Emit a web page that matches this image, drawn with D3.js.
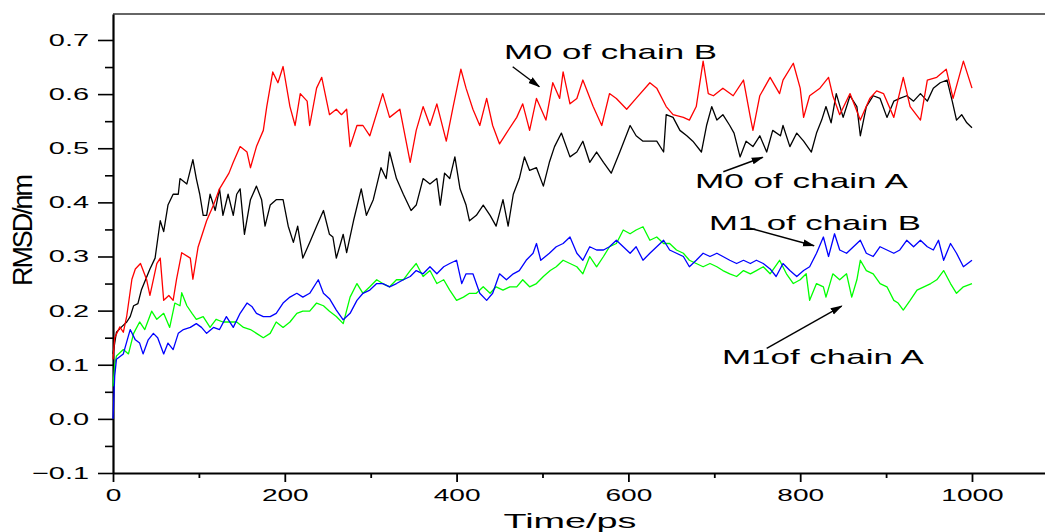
<!DOCTYPE html>
<html><head><meta charset="utf-8">
<script src="https://cdn.jsdelivr.net/npm/d3@7"></script>
<style>
body{margin:0;background:#fff}
svg{display:block}
text{font-family:"Liberation Sans",Arial,Helvetica,sans-serif;fill:#000}
</style></head>
<body><svg id="c" width="1045" height="532"></svg>
<script>
// ---- data: [time (ps), RMSD (nm)] ----
const m0ChainB = [[0,0.11],[2,0.15],[8,0.17],[12,0.16],[16,0.19],[22,0.258],[26,0.277],[32,0.287],[39,0.258],[43,0.228],[51,0.287],[55,0.297],[59,0.219],[65,0.228],[70,0.219],[74,0.258],[80,0.307],[90,0.297],[93,0.258],[99,0.317],[109,0.366],[117,0.395],[124,0.425],[135,0.454],[140,0.474],[148,0.503],[156,0.493],[160,0.464],[167,0.503],[175,0.533],[179,0.577],[186,0.641],[192,0.621],[198,0.651],[206,0.577],[212,0.542],[218,0.601],[226,0.587],[229,0.542],[237,0.611],[243,0.631],[252,0.562],[260,0.572],[266,0.562],[272,0.572],[276,0.503],[284,0.542],[291,0.542],[299,0.523],[314,0.601],[322,0.557],[334,0.572],[346,0.474],[353,0.533],[361,0.577],[369,0.542],[377,0.582],[388,0.513],[396,0.577],[405,0.646],[411,0.611],[419,0.572],[427,0.542],[435,0.592],[442,0.542],[450,0.508],[458,0.528],[470,0.557],[477,0.582],[485,0.533],[493,0.592],[504,0.552],[512,0.621],[520,0.592],[524,0.641],[532,0.582],[540,0.592],[547,0.626],[559,0.577],[569,0.542],[578,0.601],[586,0.592],[598,0.572],[609,0.592],[625,0.621],[633,0.611],[644,0.577],[652,0.562],[664,0.557],[671,0.552],[679,0.577],[687,0.661],[693,0.601],[699,0.597],[710,0.611],[722,0.597],[734,0.626],[742,0.557],[745,0.533],[753,0.597],[765,0.631],[776,0.601],[780,0.626],[792,0.657],[800,0.611],[804,0.557],[811,0.597],[823,0.611],[833,0.631],[838,0.597],[846,0.562],[858,0.601],[870,0.552],[881,0.592],[889,0.606],[897,0.601],[909,0.557],[920,0.631],[928,0.577],[940,0.552],[948,0.626],[959,0.631],[970,0.646],[978,0.592],[990,0.661],[1000,0.611]];

const m0ChainA = [[0,0.12],[4,0.16],[10,0.17],[16,0.179],[20,0.189],[24,0.209],[29,0.213],[33,0.238],[43,0.277],[49,0.297],[55,0.366],[59,0.346],[64,0.395],[70,0.415],[76,0.415],[78,0.444],[86,0.434],[93,0.479],[97,0.444],[101,0.415],[105,0.376],[109,0.376],[113,0.415],[119,0.385],[124,0.425],[128,0.376],[134,0.415],[140,0.376],[144,0.415],[148,0.425],[153,0.341],[160,0.405],[167,0.43],[173,0.405],[177,0.356],[183,0.395],[190,0.405],[198,0.405],[204,0.356],[210,0.326],[215,0.356],[221,0.297],[229,0.326],[237,0.356],[245,0.385],[252,0.341],[256,0.336],[260,0.297],[268,0.341],[272,0.307],[280,0.366],[289,0.425],[295,0.376],[303,0.405],[312,0.464],[318,0.444],[322,0.493],[330,0.444],[338,0.415],[347,0.385],[353,0.395],[361,0.444],[369,0.434],[377,0.444],[381,0.395],[386,0.454],[392,0.444],[398,0.484],[404,0.425],[411,0.395],[415,0.366],[423,0.376],[431,0.395],[439,0.376],[446,0.356],[454,0.405],[460,0.356],[466,0.415],[473,0.444],[479,0.484],[485,0.459],[493,0.464],[501,0.43],[508,0.474],[514,0.503],[522,0.528],[532,0.484],[540,0.493],[547,0.513],[555,0.474],[563,0.493],[571,0.474],[580,0.454],[590,0.493],[602,0.542],[609,0.523],[617,0.513],[625,0.513],[633,0.513],[641,0.493],[644,0.562],[652,0.557],[660,0.533],[668,0.523],[675,0.513],[685,0.493],[691,0.542],[697,0.577],[703,0.552],[710,0.562],[718,0.542],[723,0.528],[730,0.484],[737,0.513],[745,0.503],[753,0.523],[761,0.493],[768,0.533],[777,0.523],[780,0.542],[788,0.503],[796,0.528],[804,0.513],[813,0.493],[819,0.528],[825,0.552],[830,0.577],[836,0.547],[842,0.601],[850,0.557],[858,0.597],[866,0.577],[870,0.523],[877,0.577],[885,0.597],[893,0.592],[901,0.557],[909,0.587],[916,0.592],[924,0.597],[932,0.587],[940,0.601],[948,0.587],[955,0.611],[963,0.621],[971,0.626],[977,0.587],[982,0.552],[988,0.562],[994,0.547],[1000,0.538]];

const m1ChainA = [[0,0.06],[2,0.10],[4,0.116],[12,0.128],[18,0.12],[24,0.158],[31,0.179],[37,0.165],[45,0.199],[51,0.184],[59,0.195],[66,0.169],[72,0.214],[78,0.209],[80,0.233],[86,0.209],[92,0.195],[97,0.184],[105,0.189],[113,0.169],[120,0.184],[128,0.179],[136,0.179],[144,0.179],[152,0.169],[160,0.165],[167,0.158],[175,0.15],[183,0.158],[190,0.179],[198,0.169],[206,0.179],[214,0.195],[221,0.199],[229,0.199],[237,0.214],[245,0.209],[252,0.199],[260,0.189],[268,0.176],[276,0.225],[284,0.25],[291,0.232],[299,0.244],[307,0.257],[314,0.25],[322,0.244],[330,0.257],[338,0.257],[346,0.274],[353,0.287],[361,0.263],[369,0.274],[377,0.25],[385,0.257],[392,0.238],[400,0.219],[408,0.225],[415,0.232],[423,0.232],[431,0.244],[439,0.232],[446,0.244],[454,0.238],[462,0.244],[470,0.244],[477,0.257],[485,0.244],[493,0.25],[501,0.263],[509,0.274],[516,0.281],[524,0.293],[532,0.287],[540,0.281],[547,0.268],[555,0.3],[563,0.281],[571,0.3],[578,0.318],[586,0.324],[594,0.349],[602,0.342],[609,0.349],[617,0.355],[625,0.33],[633,0.336],[641,0.324],[648,0.324],[656,0.312],[664,0.306],[671,0.293],[679,0.287],[687,0.281],[695,0.287],[703,0.281],[710,0.274],[718,0.268],[726,0.263],[734,0.274],[742,0.268],[749,0.274],[757,0.281],[765,0.268],[776,0.293],[784,0.268],[792,0.25],[800,0.257],[807,0.268],[811,0.219],[819,0.25],[827,0.244],[830,0.225],[838,0.268],[846,0.257],[854,0.268],[860,0.225],[866,0.257],[870,0.293],[877,0.274],[885,0.268],[893,0.25],[901,0.244],[909,0.219],[914,0.214],[920,0.201],[928,0.219],[936,0.238],[944,0.244],[952,0.25],[959,0.257],[967,0.274],[975,0.25],[982,0.232],[990,0.244],[1000,0.25]];

const m1ChainB = [[0,0.0],[2,0.08],[4,0.11],[12,0.12],[20,0.165],[26,0.146],[31,0.14],[35,0.12],[41,0.146],[47,0.158],[52,0.15],[59,0.12],[64,0.14],[70,0.128],[76,0.158],[82,0.165],[90,0.169],[97,0.176],[103,0.169],[109,0.158],[117,0.169],[124,0.165],[132,0.189],[140,0.169],[148,0.195],[156,0.214],[162,0.207],[167,0.195],[175,0.189],[183,0.189],[190,0.195],[198,0.214],[206,0.225],[214,0.232],[221,0.225],[229,0.232],[239,0.257],[245,0.232],[252,0.222],[260,0.201],[268,0.183],[276,0.195],[284,0.219],[291,0.232],[299,0.238],[307,0.25],[314,0.25],[322,0.244],[330,0.25],[338,0.257],[346,0.263],[353,0.274],[361,0.268],[369,0.281],[377,0.268],[385,0.281],[392,0.287],[400,0.293],[406,0.25],[411,0.268],[419,0.268],[427,0.232],[435,0.219],[442,0.232],[450,0.268],[458,0.257],[466,0.268],[473,0.274],[481,0.293],[489,0.306],[493,0.324],[498,0.293],[508,0.306],[516,0.318],[524,0.324],[532,0.336],[540,0.306],[547,0.293],[555,0.318],[563,0.312],[571,0.312],[578,0.318],[586,0.33],[594,0.318],[602,0.306],[609,0.318],[617,0.293],[625,0.306],[633,0.318],[641,0.33],[648,0.312],[656,0.306],[664,0.3],[671,0.281],[679,0.293],[687,0.306],[695,0.3],[703,0.306],[710,0.3],[718,0.293],[726,0.287],[734,0.293],[742,0.287],[749,0.293],[757,0.287],[765,0.277],[772,0.263],[780,0.287],[788,0.274],[796,0.263],[804,0.274],[811,0.281],[819,0.306],[827,0.336],[833,0.3],[840,0.342],[846,0.312],[854,0.306],[862,0.318],[870,0.33],[877,0.306],[885,0.3],[893,0.318],[901,0.312],[909,0.306],[916,0.312],[924,0.33],[932,0.318],[940,0.33],[948,0.318],[955,0.312],[961,0.33],[967,0.293],[975,0.324],[982,0.306],[990,0.281],[1000,0.293]];

const xMajorTicks = [0,200,400,600,800,1000];
const xMinorTicks = [100,300,500,700,900];
const yMajorTicks = [-0.1,0.0,0.1,0.2,0.3,0.4,0.5,0.6,0.7];
const yMinorTicks = [-0.05,0.05,0.15,0.25,0.35,0.45,0.55,0.65];

// annotation labels and arrows, in data units
const annotLabels = ["M0 of chain B","M0 of chain A","M1 of chain B","M1of chain A"];
const annotLabelPos = [[455.2,0.665],[677.5,0.4265],[693.8,0.3489],[708.9,0.1014]];
const annotLabelWidth = [213,213,212,202];
const annotArrows = [[465.3,0.6506,496.3,0.6137],[710.5,0.4566,756.4,0.4833],[741.6,0.3521,816.1,0.3199],[761.0,0.1304,848.3,0.2085]];

// ---- drawing ----
const svg = d3.select('#c');
const x = d3.scaleLinear().domain([0,1085]).range([113,1045]);
const y = d3.scaleLinear().domain([-0.1,0.748]).range([473,14]);

function stretch(sel, factor){
  sel.each(function(){
    const w = this.getComputedTextLength();
    d3.select(this).attr('textLength', w*factor).attr('lengthAdjust','spacingAndGlyphs');
  });
}

// top frame line
svg.append('line').attr('x1',x(0)).attr('x2',x(1085)).attr('y1',y(0.748)).attr('y2',y(0.748))
  .attr('stroke','#333').attr('stroke-width',1.5);

// y axis
const yAxisG = svg.append('g').attr('transform',`translate(${x(0)},0)`);
yAxisG.call(d3.axisLeft(y).tickValues(yMajorTicks).tickSize(15).tickSizeOuter(0).tickPadding(9).tickFormat(d3.format('.1f')));
yAxisG.select('.domain').attr('stroke','#000').attr('stroke-width',2.2);
yAxisG.selectAll('.tick line').attr('stroke','#000').attr('stroke-width',1.6);
yAxisG.selectAll('.tick text').attr('font-size',17).attr('font-family','"Liberation Sans",Arial,sans-serif').call(stretch,1.7);
const yMinorG = svg.append('g').attr('transform',`translate(${x(0)},0)`);
yMinorG.call(d3.axisLeft(y).tickValues(yMinorTicks).tickSize(8).tickFormat(''));
yMinorG.select('.domain').remove();
yMinorG.selectAll('.tick line').attr('stroke','#000').attr('stroke-width',1.6);

// x axis
const xAxisG = svg.append('g').attr('transform',`translate(0,${y(-0.1)})`);
xAxisG.call(d3.axisBottom(x).tickValues(xMajorTicks).tickSize(9).tickSizeOuter(0).tickPadding(7).tickFormat(d3.format('d')));
xAxisG.select('.domain').attr('stroke','#000').attr('stroke-width',2.2);
xAxisG.selectAll('.tick line').attr('stroke','#000').attr('stroke-width',1.8);
xAxisG.selectAll('.tick text').attr('font-size',17).attr('font-family','"Liberation Sans",Arial,sans-serif').call(stretch,1.65);
const xMinorG = svg.append('g').attr('transform',`translate(0,${y(-0.1)})`);
xMinorG.call(d3.axisBottom(x).tickValues(xMinorTicks).tickSize(5).tickFormat(''));
xMinorG.select('.domain').remove();
xMinorG.selectAll('.tick line').attr('stroke','#000').attr('stroke-width',1.8);

// axis titles
svg.append('text').attr('x',570).attr('y',528).attr('text-anchor','middle')
  .attr('font-size',21).attr('textLength',133).attr('lengthAdjust','spacingAndGlyphs').text('Time/ps');
svg.append('text').attr('transform',`translate(32,230) rotate(-90)`).attr('text-anchor','middle')
  .attr('font-size',27).attr('textLength',112).attr('lengthAdjust','spacing').text('RMSD/nm');

// lines
const line = d3.line().x(d=>x(d[0])).y(d=>y(d[1]));
const series = [[m0ChainA,'#000000'],[m0ChainB,'#ff0000'],[m1ChainA,'#00ff00'],[m1ChainB,'#0000ff']];
series.forEach(([data,col])=>{
  svg.append('path').datum(data).attr('d',line).attr('fill','none').attr('stroke',col)
    .attr('stroke-width',1.3).attr('stroke-linejoin','round');
});

// arrow marker
svg.append('defs').append('marker').attr('id','ah').attr('markerUnits','userSpaceOnUse')
  .attr('markerWidth',12).attr('markerHeight',8).attr('refX',11).attr('refY',4).attr('orient','auto')
  .append('path').attr('d','M0,0.5 L12,4 L0,7.5 Z').attr('fill','#000');

annotArrows.forEach(a=>{
  svg.append('line').attr('x1',x(a[0])).attr('y1',y(a[1])).attr('x2',x(a[2])).attr('y2',y(a[3]))
    .attr('stroke','#000').attr('stroke-width',1.4).attr('marker-end','url(#ah)');
});
annotLabels.forEach((lab,i)=>{
  svg.append('text').attr('x',x(annotLabelPos[i][0])).attr('y',y(annotLabelPos[i][1]))
    .attr('font-size',21).attr('textLength',annotLabelWidth[i]).attr('lengthAdjust','spacingAndGlyphs').text(lab);
});
</script>
</body></html>
